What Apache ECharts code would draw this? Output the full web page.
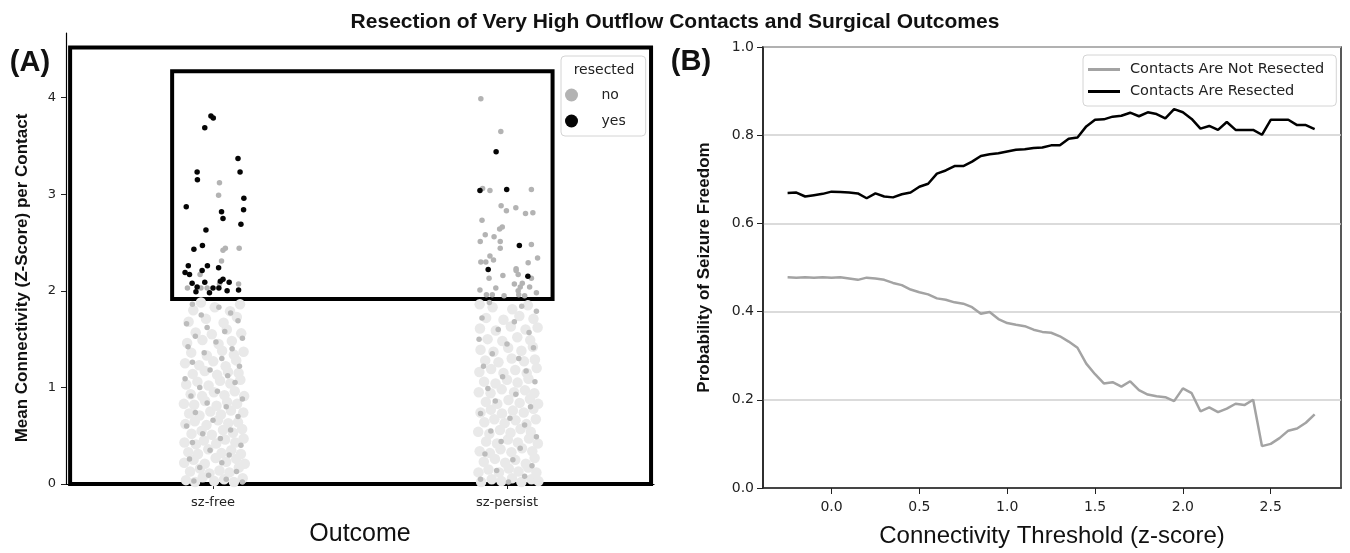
<!DOCTYPE html>
<html>
<head>
<meta charset="utf-8">
<title>Resection of Very High Outflow Contacts and Surgical Outcomes</title>
<script src="https://cdn.jsdelivr.net/npm/echarts@6.0.0/dist/echarts.min.js"></script>
<style>
    html, body { margin: 0; padding: 0; background: #fff; }
    #main { width: 1350px; height: 553px; }
</style>
</head>
<body>
<div id="main"></div>
<script>
// (A) strip plot: each point is [jitter, mean connectivity]
var outcomes = ['sz-free', 'sz-persist'];

var freeYes = [
    [-0.007, 3.81], [0.001, 3.79], [-0.028, 3.69], [0.085, 3.37], [-0.054, 3.23], [0.092, 3.23],
    [-0.053, 3.15], [0.105, 2.96], [-0.091, 2.87], [0.029, 2.82], [0.104, 2.84], [0.034, 2.75],
    [0.095, 2.69], [-0.024, 2.63], [-0.036, 2.47], [-0.065, 2.43], [-0.084, 2.26], [-0.019, 2.26],
    [0.019, 2.24], [-0.095, 2.19], [-0.08, 2.17], [-0.037, 2.21], [-0.071, 2.08], [-0.028, 2.09],
    [0.025, 2.10], [0.034, 2.12], [0.055, 2.09], [-0.054, 2.04], [-0.058, 1.99], [-0.012, 1.98],
    [0.0, 2.03], [0.02, 2.03], [0.048, 2.0], [0.087, 2.01]
];
var freeNo = [
    [0.022, 3.12], [0.019, 2.99], [0.034, 2.42], [0.042, 2.44], [0.089, 2.44], [0.029, 2.31],
    [-0.044, 2.17], [-0.087, 2.03], [-0.041, 2.03], [-0.02, 2.03], [0.087, 2.07], [0.022, 2.07]
];
var persistYes = [
    [-0.037, 3.44], [-0.092, 3.04], [-0.001, 3.05], [0.042, 2.47], [-0.064, 2.22], [0.071, 2.15]
];
var persistNo = [
    [-0.089, 3.99], [-0.021, 3.65], [-0.083, 3.06], [-0.058, 3.04], [0.083, 3.05], [-0.02, 2.88],
    [-0.002, 2.83], [0.03, 2.86], [0.063, 2.80], [0.088, 2.81], [-0.085, 2.73], [-0.016, 2.66],
    [-0.025, 2.64], [-0.074, 2.58], [-0.044, 2.56], [-0.091, 2.51], [-0.023, 2.51], [-0.023, 2.44],
    [0.083, 2.48], [0.104, 2.34], [-0.058, 2.36], [-0.046, 2.32], [-0.089, 2.30], [-0.072, 2.30],
    [0.072, 2.29], [0.031, 2.23], [0.031, 2.21], [-0.014, 2.16], [0.038, 2.17], [-0.061, 2.13],
    [0.083, 2.13], [0.025, 2.07], [0.052, 2.08], [0.045, 2.04], [-0.038, 2.03], [-0.092, 2.01],
    [0.077, 2.04], [0.1, 1.98], [0.038, 2.0], [-0.07, 1.96], [-0.05, 1.96], [-0.01, 1.95],
    [0.04, 1.96], [0.06, 1.95]
];
// faded contacts below the threshold box
var freeLight = [
    [-0.092, 0.04], [-0.061, 0.02], [-0.035, 0.07], [0.004, 0.03], [0.038, 0.05], [0.071, 0.02], [0.101, 0.06],
    [-0.078, 0.13], [-0.044, 0.16], [-0.012, 0.11], [0.022, 0.14], [0.056, 0.12], [0.088, 0.17],
    [-0.098, 0.22], [-0.066, 0.25], [-0.028, 0.21], [0.009, 0.27], [0.045, 0.23], [0.079, 0.26], [0.108, 0.21],
    [-0.084, 0.33], [-0.051, 0.31], [-0.016, 0.36], [0.029, 0.32], [0.062, 0.35], [0.095, 0.31],
    [-0.097, 0.43], [-0.058, 0.41], [-0.031, 0.45], [0.011, 0.42], [0.041, 0.46], [0.076, 0.43], [0.104, 0.47],
    [-0.073, 0.52], [-0.039, 0.55], [-0.004, 0.51], [0.034, 0.56], [0.068, 0.53], [0.099, 0.57],
    [-0.094, 0.62], [-0.062, 0.65], [-0.022, 0.61], [0.017, 0.66], [0.052, 0.63], [0.085, 0.64],
    [-0.081, 0.73], [-0.046, 0.71], [-0.009, 0.75], [0.027, 0.72], [0.061, 0.76], [0.103, 0.74],
    [-0.099, 0.83], [-0.064, 0.82], [-0.027, 0.86], [0.012, 0.81], [0.048, 0.85], [0.082, 0.83],
    [-0.076, 0.93], [-0.037, 0.91], [0.003, 0.95], [0.039, 0.92], [0.074, 0.96], [0.106, 0.91],
    [-0.091, 1.03], [-0.053, 1.06], [-0.015, 1.02], [0.024, 1.07], [0.059, 1.04], [0.093, 1.08],
    [-0.069, 1.14], [-0.028, 1.17], [0.014, 1.13], [0.051, 1.16], [0.087, 1.15],
    [-0.095, 1.25], [-0.047, 1.23], [0.001, 1.27], [0.043, 1.22], [0.079, 1.28],
    [-0.074, 1.36], [-0.021, 1.33], [0.031, 1.38], [0.071, 1.34], [0.104, 1.37],
    [-0.088, 1.46], [-0.036, 1.49], [0.019, 1.45], [0.064, 1.48],
    [-0.059, 1.57], [-0.004, 1.55], [0.047, 1.60], [0.096, 1.56],
    [-0.083, 1.68], [-0.024, 1.71], [0.036, 1.67], [0.081, 1.73],
    [-0.067, 1.80], [0.006, 1.83], [0.058, 1.79], [-0.041, 1.88], [0.092, 1.86]
];
var freeMid = [
    [-0.07, 1.86], [0.02, 1.83], [-0.04, 1.75], [0.06, 1.77], [-0.09, 1.66], [0.085, 1.69], [-0.02, 1.62],
    [0.04, 1.58], [-0.06, 1.53], [0.1, 1.51], [0.01, 1.47], [-0.085, 1.42], [0.065, 1.40], [-0.03, 1.36],
    [0.03, 1.30], [-0.07, 1.26], [0.09, 1.22], [-0.01, 1.18], [0.05, 1.12], [-0.095, 1.09], [0.075, 1.05],
    [-0.045, 1.0], [0.015, 0.96], [-0.075, 0.91], [0.1, 0.88], [-0.02, 0.84], [0.045, 0.80], [-0.06, 0.74],
    [0.085, 0.70], [0.0, 0.66], [-0.09, 0.60], [0.06, 0.56], [-0.035, 0.52], [0.025, 0.47], [-0.07, 0.43],
    [0.095, 0.40], [-0.01, 0.35], [0.055, 0.30], [-0.08, 0.26], [0.03, 0.22], [-0.045, 0.17], [0.08, 0.13],
    [-0.015, 0.09], [0.045, 0.05], [-0.065, 0.03], [0.1, 0.02]
];
var persistLight = [
    [-0.088, 0.02], [-0.052, 0.05], [-0.019, 0.03], [0.017, 0.06], [0.049, 0.02], [0.083, 0.05], [0.107, 0.03],
    [-0.097, 0.12], [-0.063, 0.15], [-0.027, 0.12], [0.006, 0.16], [0.039, 0.13], [0.072, 0.17], [0.1, 0.12],
    [-0.079, 0.23], [-0.041, 0.26], [-0.006, 0.22], [0.028, 0.25], [0.064, 0.21], [0.094, 0.27],
    [-0.093, 0.34], [-0.058, 0.32], [-0.022, 0.36], [0.015, 0.33], [0.051, 0.37], [0.086, 0.34],
    [-0.071, 0.44], [-0.034, 0.42], [0.003, 0.46], [0.037, 0.43], [0.075, 0.47], [0.105, 0.42],
    [-0.098, 0.54], [-0.06, 0.52], [-0.024, 0.56], [0.012, 0.53], [0.046, 0.57], [0.081, 0.54],
    [-0.077, 0.64], [-0.043, 0.67], [-0.008, 0.63], [0.029, 0.66], [0.066, 0.62], [0.098, 0.67],
    [-0.09, 0.74], [-0.055, 0.77], [-0.017, 0.73], [0.02, 0.76], [0.057, 0.74], [0.09, 0.78],
    [-0.072, 0.85], [-0.033, 0.83], [0.005, 0.87], [0.043, 0.84], [0.078, 0.88], [0.106, 0.83],
    [-0.096, 0.95], [-0.056, 0.94], [-0.018, 0.98], [0.024, 0.95], [0.061, 0.97], [0.093, 0.94],
    [-0.078, 1.06], [-0.039, 1.04], [0.0, 1.08], [0.036, 1.05], [0.073, 1.09],
    [-0.094, 1.16], [-0.054, 1.19], [-0.012, 1.15], [0.028, 1.18], [0.067, 1.15], [0.101, 1.20],
    [-0.074, 1.28], [-0.029, 1.26], [0.016, 1.30], [0.058, 1.27], [0.095, 1.29],
    [-0.09, 1.39], [-0.046, 1.37], [0.004, 1.41], [0.049, 1.38], [0.088, 1.42],
    [-0.066, 1.50], [-0.016, 1.48], [0.035, 1.52], [0.079, 1.49],
    [-0.092, 1.61], [-0.038, 1.59], [0.013, 1.63], [0.063, 1.60], [0.104, 1.62],
    [-0.071, 1.72], [-0.012, 1.70], [0.042, 1.74], [0.09, 1.71],
    [-0.049, 1.83], [0.018, 1.81], [0.071, 1.85], [-0.093, 1.86]
];
var persistMid = [
    [-0.06, 1.88], [0.05, 1.84], [0.1, 1.79], [-0.085, 1.72], [0.025, 1.68], [-0.03, 1.60], [0.075, 1.57],
    [-0.095, 1.50], [0.0, 1.45], [0.09, 1.41], [-0.05, 1.35], [0.04, 1.30], [-0.08, 1.22], [0.065, 1.17],
    [-0.015, 1.11], [0.095, 1.06], [-0.065, 0.99], [0.03, 0.93], [-0.04, 0.86], [0.08, 0.80], [-0.09, 0.73],
    [0.01, 0.68], [0.06, 0.61], [-0.055, 0.55], [0.1, 0.49], [-0.02, 0.44], [0.045, 0.37], [-0.075, 0.31],
    [0.02, 0.25], [0.085, 0.19], [-0.035, 0.14], [0.06, 0.08], [-0.09, 0.05], [0.005, 0.02]
];

// (B) probability of seizure freedom vs threshold
var thresholds = [
    -0.25, -0.20, -0.15, -0.10, -0.05, 0.00, 0.05, 0.10, 0.15, 0.20, 0.25, 0.30, 0.35, 0.40, 0.45,
    0.50, 0.55, 0.60, 0.65, 0.70, 0.75, 0.80, 0.85, 0.90, 0.95, 1.00, 1.05, 1.10, 1.15, 1.20, 1.25,
    1.30, 1.35, 1.40, 1.45, 1.50, 1.55, 1.60, 1.65, 1.70, 1.75, 1.80, 1.85, 1.90, 1.95, 2.00, 2.05,
    2.10, 2.15, 2.20, 2.25, 2.30, 2.35, 2.40, 2.45, 2.50, 2.55, 2.60, 2.65, 2.70, 2.75
];
var notResected = [
    0.478, 0.477, 0.478, 0.477, 0.478, 0.477, 0.478, 0.475, 0.472, 0.477, 0.475, 0.472, 0.465, 0.460, 0.450,
    0.444, 0.439, 0.430, 0.427, 0.421, 0.418, 0.410, 0.395, 0.399, 0.383, 0.374, 0.370, 0.367, 0.359, 0.354, 0.352,
    0.344, 0.332, 0.318, 0.282, 0.258, 0.237, 0.240, 0.230, 0.242, 0.222, 0.212, 0.208, 0.206, 0.197, 0.226, 0.215,
    0.174, 0.183, 0.172, 0.180, 0.191, 0.188, 0.200, 0.095, 0.100, 0.113, 0.130, 0.135, 0.148, 0.167
];
var resected = [
    0.669, 0.670, 0.661, 0.664, 0.667, 0.672, 0.671, 0.670, 0.668, 0.657, 0.668, 0.661, 0.659, 0.666, 0.670,
    0.683, 0.690, 0.713, 0.720, 0.730, 0.730, 0.740, 0.753, 0.757, 0.759, 0.763, 0.767, 0.768, 0.771, 0.772, 0.777,
    0.777, 0.792, 0.795, 0.820, 0.835, 0.836, 0.842, 0.844, 0.851, 0.843, 0.852, 0.848, 0.838, 0.859, 0.852, 0.837,
    0.815, 0.821, 0.812, 0.830, 0.812, 0.812, 0.812, 0.801, 0.835, 0.835, 0.835, 0.823, 0.823, 0.814
];

function place(idx, pts) {
    return pts.map(function (p) { return [idx + p[0], p[1]]; });
}
function curve(ys) {
    return thresholds.map(function (t, i) { return [t, ys[i]]; });
}

var tickFont = { fontFamily: 'DejaVu Sans', fontSize: 13, color: '#222' };
var chart = echarts.init(document.getElementById('main'));
var option = {
    animation: false,
    backgroundColor: '#fff',
    title: {
        text: 'Resection of Very High Outflow Contacts and Surgical Outcomes',
        left: 'center',
        top: 7,
        textStyle: { fontFamily: 'Liberation Sans', fontWeight: 'bold', fontSize: 21, color: '#111' }
    },
    grid: [
        { left: 66, top: 33, width: 588, height: 451 },
        { left: 763, top: 47, width: 578, height: 443, show: true, borderColor: '#222', borderWidth: 1.5 }
    ],
    xAxis: [
        {
            gridIndex: 0, type: 'value', min: -0.5, max: 1.5,
            axisLine: { onZero: false, lineStyle: { color: '#000', width: 1.2 } },
            axisTick: { length: 5, customValues: [0, 1], lineStyle: { color: '#222' } },
            axisLabel: Object.assign({
                customValues: [0, 1], margin: 12,
                formatter: function (v) { return outcomes[Math.round(v)]; }
            }, tickFont),
            splitLine: { show: false },
            name: 'Outcome', nameLocation: 'middle', nameGap: 38,
            nameTextStyle: { fontFamily: 'Liberation Sans', fontSize: 25, color: '#111' }
        },
        {
            gridIndex: 1, type: 'value', min: -0.39, max: 2.9,
            axisLine: { onZero: false, lineStyle: { color: '#222', width: 1.5 } },
            axisTick: { length: 6, customValues: [0, 0.5, 1, 1.5, 2, 2.5], lineStyle: { color: '#222' } },
            axisLabel: {
                customValues: [0, 0.5, 1, 1.5, 2, 2.5], margin: 12,
                fontFamily: 'DejaVu Sans', fontSize: 14, color: '#222',
                formatter: function (v) { return v.toFixed(1); }
            },
            splitLine: { show: false },
            name: 'Connectivity Threshold (z-score)', nameLocation: 'middle', nameGap: 36,
            nameTextStyle: { fontFamily: 'Liberation Sans', fontSize: 24, color: '#111' }
        }
    ],
    yAxis: [
        {
            gridIndex: 0, type: 'value', min: 0, max: 4.67,
            axisLine: { show: true, onZero: false, lineStyle: { color: '#000', width: 1.2 } },
            axisTick: { show: true, length: 5, customValues: [0, 1, 2, 3, 4], lineStyle: { color: '#222' } },
            axisLabel: Object.assign({ customValues: [0, 1, 2, 3, 4], margin: 10 }, tickFont),
            splitLine: { show: false }
        },
        {
            gridIndex: 1, type: 'value', min: 0, max: 1, interval: 0.2,
            axisLine: { show: true, onZero: false, lineStyle: { color: '#222', width: 1.5 } },
            axisTick: { show: true, length: 6, lineStyle: { color: '#222' } },
            axisLabel: {
                margin: 9, fontFamily: 'DejaVu Sans', fontSize: 14, color: '#222',
                formatter: function (v) { return v.toFixed(1); }
            },
            splitLine: { show: true, lineStyle: { color: '#cfcfcf', width: 1.5 } },
            name: 'Probability of Seizure Freedom', nameLocation: 'middle', nameGap: 50,
            nameTextStyle: { fontFamily: 'Liberation Sans', fontWeight: 'bold', fontSize: 17, color: '#111' }
        }
    ],
    legend: [
        {
            data: ['no', 'yes'],
            orient: 'vertical', left: 561, top: 56,
            padding: [32, 20, 8, 4], itemGap: 12,
            itemWidth: 36, itemHeight: 13,
            textStyle: { fontFamily: 'DejaVu Sans', fontSize: 14, color: '#222', padding: [0, 0, 0, 7] },
            backgroundColor: '#fff', borderColor: '#d4d4d4', borderWidth: 1, borderRadius: 4,
            selectedMode: false
        },
        {
            data: ['Contacts Are Not Resected', 'Contacts Are Resected'],
            orient: 'vertical', left: 1083, top: 55,
            padding: [6, 12, 6, 5], itemGap: 5,
            icon: 'rect', itemWidth: 32, itemHeight: 3,
            textStyle: { fontFamily: 'DejaVu Sans', fontSize: 14.5, lineHeight: 17, color: '#222', padding: [0, 0, 0, 5] },
            backgroundColor: '#fff', borderColor: '#d4d4d4', borderWidth: 1, borderRadius: 4,
            selectedMode: false
        }
    ],
    graphic: [
        {
            type: 'text', x: 30, y: 63, z: 10,
            style: { text: '(A)', fontFamily: 'Liberation Sans', fontWeight: 'bold', fontSize: 29, fill: '#111', align: 'center', verticalAlign: 'middle' }
        },
        {
            type: 'text', x: 691, y: 62, z: 10,
            style: { text: '(B)', fontFamily: 'Liberation Sans', fontWeight: 'bold', fontSize: 29, fill: '#111', align: 'center', verticalAlign: 'middle' }
        },
        {
            type: 'text', x: 604, y: 70, z: 10,
            style: { text: 'resected', fontFamily: 'DejaVu Sans', fontSize: 14, fill: '#222', align: 'center', verticalAlign: 'middle' }
        },
        {
            type: 'text', x: 22, y: 278, z: 10, rotation: Math.PI / 2,
            style: { text: 'Mean Connectivity (Z-Score) per Contact', fontFamily: 'Liberation Sans', fontWeight: 'bold', fontSize: 17, fill: '#111', align: 'center', verticalAlign: 'middle' }
        }
    ],
    series: [
        {
            name: 'below', type: 'scatter', xAxisIndex: 0, yAxisIndex: 0, silent: true,
            symbolSize: 10.5, itemStyle: { color: '#e9e9e9', opacity: 1 },
            data: place(0, freeLight).concat(place(1, persistLight))
        },
        {
            name: 'below-mid', type: 'scatter', xAxisIndex: 0, yAxisIndex: 0, silent: true,
            symbolSize: 5.5, itemStyle: { color: '#bcbcbc', opacity: 1 },
            data: place(0, freeMid).concat(place(1, persistMid))
        },
        {
            name: 'no', type: 'scatter', xAxisIndex: 0, yAxisIndex: 0, silent: true,
            symbolSize: 5.5, itemStyle: { color: '#b3b3b3', opacity: 1 },
            data: place(0, freeNo).concat(place(1, persistNo))
        },
        {
            name: 'yes', type: 'scatter', xAxisIndex: 0, yAxisIndex: 0, silent: true, clip: false,
            symbolSize: 5.5, itemStyle: { color: '#050505', opacity: 1 },
            data: place(0, freeYes).concat(place(1, persistYes)),
            markArea: {
                silent: true,
                label: { show: false },
                itemStyle: { color: 'rgba(0,0,0,0)', borderColor: '#000', borderWidth: 4, opacity: 1 },
                data: [
                    [{ coord: [-0.486, 0] }, { coord: [1.49, 4.52] }],
                    [{ coord: [-0.139, 1.915] }, { coord: [1.155, 4.275] }]
                ]
            }
        },
        {
            name: 'Contacts Are Not Resected', type: 'line', xAxisIndex: 1, yAxisIndex: 1,
            symbol: 'none', silent: true,
            lineStyle: { color: '#a3a3a3', width: 2.5 }, itemStyle: { color: '#a3a3a3' },
            data: curve(notResected)
        },
        {
            name: 'Contacts Are Resected', type: 'line', xAxisIndex: 1, yAxisIndex: 1,
            symbol: 'none', silent: true,
            lineStyle: { color: '#000', width: 2.5 }, itemStyle: { color: '#000' },
            data: curve(resected)
        }
    ]
};
chart.setOption(option);
</script>
</body>
</html>
